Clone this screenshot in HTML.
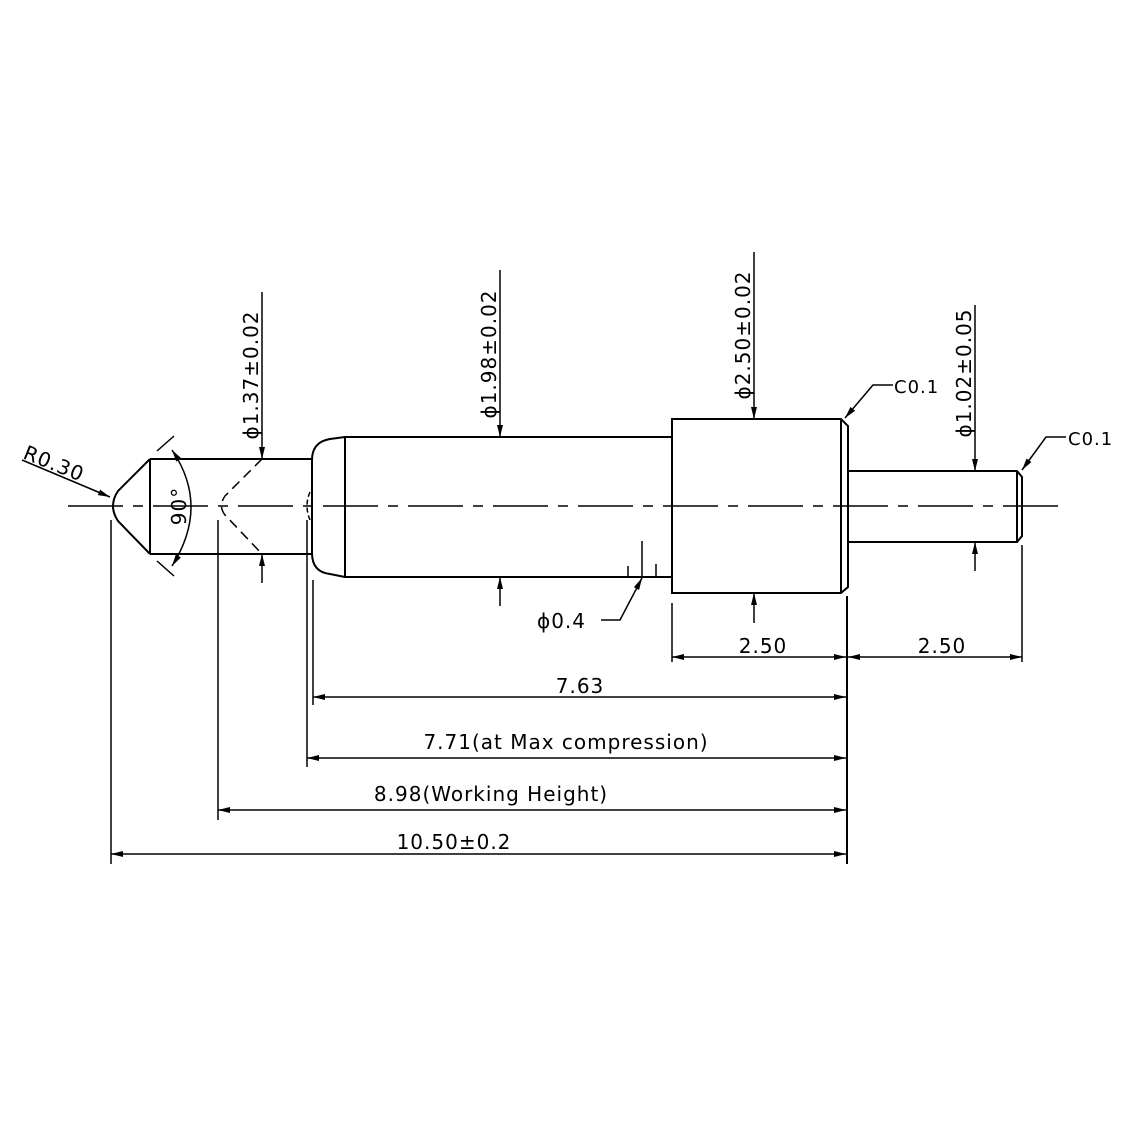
<!DOCTYPE html>
<html><head><style>html,body{margin:0;padding:0;background:#fff}svg{display:block}</style></head><body>
<svg width="1129" height="1129" viewBox="0 0 1129 1129" xmlns="http://www.w3.org/2000/svg">
<defs>
<marker id="a" viewBox="0 0 12 6" refX="12" refY="3" markerWidth="12" markerHeight="6" markerUnits="userSpaceOnUse" orient="auto-start-reverse"><path d="M0,0 L12,3 L0,6 z" fill="#000"/></marker>
</defs>
<g fill="none" stroke="#000" stroke-width="2">
<!-- centerline -->
<line x1="68" y1="506" x2="1060" y2="506" stroke-width="1.5" stroke-dasharray="55,10,10,10"/>
<!-- tip -->
<path d="M150,459 L118,491 Q108,506 118,521 L150,554"/>
<line x1="150" y1="459" x2="150" y2="554"/>
<line x1="150" y1="459" x2="312" y2="459"/>
<line x1="150" y1="554" x2="312" y2="554"/>
<path d="M262,459 L225,496 Q218,506 225,515 L262,554" stroke-dasharray="10,6" stroke-width="1.5"/>
<!-- head -->
<path d="M345,437 L330,439 Q312,442 312,460 L312,553 Q312,572 330,574 L345,577"/>
<path d="M310,492 Q304,506 310,520" stroke-dasharray="5,3" stroke-width="1.5"/>
<rect x="345" y="437" width="327" height="140"/>
<!-- big cylinder -->
<path d="M672,419 L841,419 L848,426 L848,587 L841,593 L672,593 Z"/>
<line x1="841" y1="419" x2="841" y2="593"/>
<!-- small pin -->
<path d="M848,471 L1017,471 L1022,477 L1022,536 L1017,542 L848,542"/>
<line x1="1017" y1="471" x2="1017" y2="542"/>
<!-- 0.4 ticks -->
<line x1="628" y1="566" x2="628" y2="577" stroke-width="1.5"/>
<line x1="642" y1="541" x2="642" y2="577" stroke-width="1.5"/>
<line x1="656" y1="564" x2="656" y2="577" stroke-width="1.5"/>
</g>
<g fill="none" stroke="#000" stroke-width="1.5">
<!-- R0.30 leader -->
<line x1="22" y1="460" x2="110" y2="497" marker-end="url(#a)"/>
<!-- 90 arc -->
<path d="M172,450 Q210,506 172,566" marker-start="url(#a)" marker-end="url(#a)"/>
<line x1="157" y1="451" x2="174" y2="436"/>
<line x1="157" y1="561" x2="174" y2="576"/>
<!-- vertical dims -->
<line x1="262" y1="292" x2="262" y2="459" marker-end="url(#a)"/>
<line x1="262" y1="583" x2="262" y2="554" marker-end="url(#a)"/>
<line x1="500" y1="270" x2="500" y2="437" marker-end="url(#a)"/>
<line x1="500" y1="606" x2="500" y2="577" marker-end="url(#a)"/>
<line x1="754" y1="252" x2="754" y2="419" marker-end="url(#a)"/>
<line x1="754" y1="623" x2="754" y2="593" marker-end="url(#a)"/>
<line x1="975" y1="305" x2="975" y2="471" marker-end="url(#a)"/>
<line x1="975" y1="571" x2="975" y2="542" marker-end="url(#a)"/>
<!-- C0.1 leaders -->
<polyline points="893,385 873,385 845,418" marker-end="url(#a)"/>
<polyline points="1066,437 1046,437 1022,470" marker-end="url(#a)"/>
<!-- 0.4 leader -->
<polyline points="601,620 620,620 642,578" marker-end="url(#a)"/>
<!-- extension lines -->
<line x1="111" y1="520" x2="111" y2="864"/>
<line x1="218" y1="520" x2="218" y2="820"/>
<line x1="307" y1="520" x2="307" y2="767"/>
<line x1="313" y1="580" x2="313" y2="705"/>
<line x1="847" y1="596" x2="847" y2="864" stroke-width="2"/>
<line x1="672" y1="603" x2="672" y2="662"/>
<line x1="1022" y1="545" x2="1022" y2="662"/>
<!-- horizontal dims -->
<line x1="672" y1="657" x2="846" y2="657" marker-start="url(#a)" marker-end="url(#a)"/>
<line x1="848" y1="657" x2="1022" y2="657" marker-start="url(#a)" marker-end="url(#a)"/>
<line x1="313" y1="697" x2="846" y2="697" marker-start="url(#a)" marker-end="url(#a)"/>
<line x1="307" y1="758" x2="846" y2="758" marker-start="url(#a)" marker-end="url(#a)"/>
<line x1="218" y1="810" x2="846" y2="810" marker-start="url(#a)" marker-end="url(#a)"/>
<line x1="111" y1="854" x2="846" y2="854" marker-start="url(#a)" marker-end="url(#a)"/>
</g>
<g font-family="'DejaVu Sans','Liberation Sans',sans-serif" font-size="20" fill="#000" letter-spacing="1">
<text x="22" y="458" transform="rotate(22 22 458)">R0.30</text>
<text x="0" y="0" transform="translate(186,506) rotate(-90)" text-anchor="middle">90°</text>
<text transform="translate(258,375) rotate(-90)" text-anchor="middle">ϕ1.37±0.02</text>
<text transform="translate(496,354) rotate(-90)" text-anchor="middle">ϕ1.98±0.02</text>
<text transform="translate(750,335) rotate(-90)" text-anchor="middle">ϕ2.50±0.02</text>
<text transform="translate(971,373) rotate(-90)" text-anchor="middle">ϕ1.02±0.05</text>
<text x="894" y="393" font-size="18">C0.1</text>
<text x="1068" y="445" font-size="18">C0.1</text>
<text x="537" y="628">ϕ0.4</text>
<text x="763" y="653" text-anchor="middle">2.50</text>
<text x="942" y="653" text-anchor="middle">2.50</text>
<text x="580" y="693" text-anchor="middle">7.63</text>
<text x="566" y="749" text-anchor="middle">7.71(at Max compression)</text>
<text x="491" y="801" text-anchor="middle">8.98(Working Height)</text>
<text x="454" y="849" text-anchor="middle">10.50±0.2</text>
</g>
</svg>
</body></html>
